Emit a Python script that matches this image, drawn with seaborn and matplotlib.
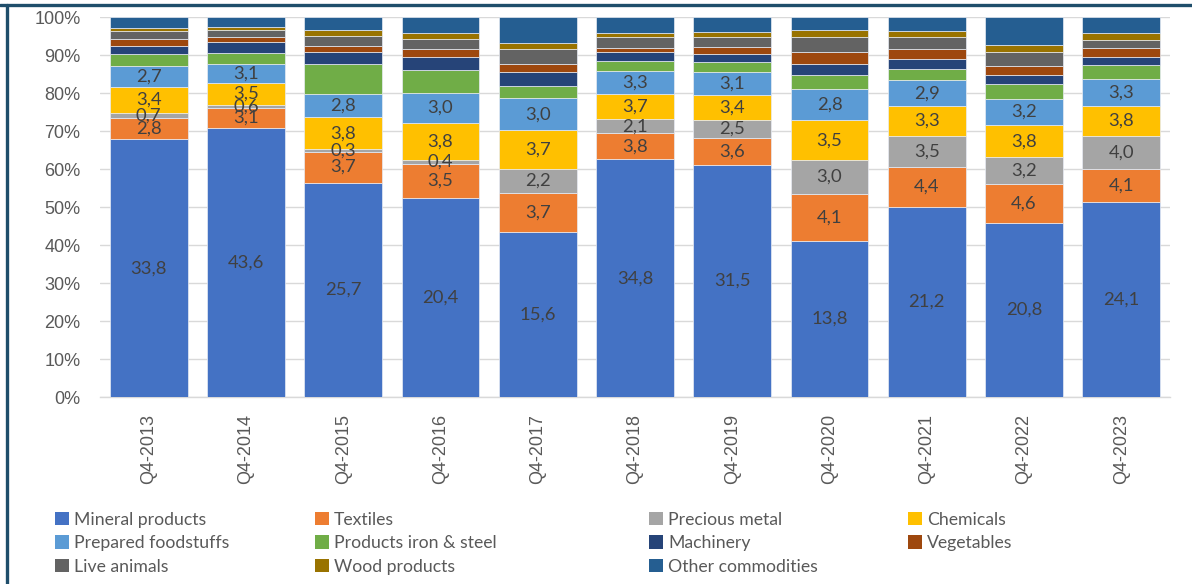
import matplotlib
matplotlib.use("Agg")
import matplotlib.pyplot as plt
from matplotlib.lines import Line2D
from matplotlib.patches import Patch
from matplotlib.ticker import PercentFormatter, MultipleLocator
import numpy as np
import pandas as pd
import seaborn as sns

# Quarterly exports by commodity group (values, billions)
quarters = ["Q4-2013", "Q4-2014", "Q4-2015", "Q4-2016", "Q4-2017", "Q4-2018",
            "Q4-2019", "Q4-2020", "Q4-2021", "Q4-2022", "Q4-2023"]

mineral = [33.8, 43.6, 25.7, 20.4, 15.6, 34.8, 31.5, 13.8, 21.2, 20.8, 24.1]
textiles = [2.8, 3.1, 3.7, 3.5, 3.7, 3.8, 3.6, 4.1, 4.4, 4.6, 4.1]
precious = [0.7, 0.6, 0.3, 0.4, 2.2, 2.1, 2.5, 3.0, 3.5, 3.2, 4.0]
chemicals = [3.4, 3.5, 3.8, 3.8, 3.7, 3.7, 3.4, 3.5, 3.3, 3.8, 3.8]
foodstuffs = [2.7, 3.1, 2.8, 3.0, 3.0, 3.3, 3.1, 2.8, 2.9, 3.2, 3.3]
iron_steel = [1.65, 1.8, 3.6, 2.35, 1.15, 1.45, 1.3, 1.2, 1.2, 1.75, 1.75]
machinery = [1.05, 1.8, 1.45, 1.4, 1.3, 1.3, 1.1, 1.0, 1.2, 1.1, 1.0]
vegetables = [0.8, 0.7, 0.75, 0.85, 0.75, 0.7, 0.95, 1.05, 1.05, 1.05, 1.1]
live_animals = [1.05, 1.15, 1.2, 0.95, 1.45, 1.5, 1.4, 1.35, 1.35, 1.7, 1.0]
wood = [0.5, 0.5, 0.65, 0.6, 0.6, 0.65, 0.6, 0.6, 0.7, 0.8, 0.8]
other = [1.35, 1.6, 1.55, 1.65, 2.4, 2.3, 2.05, 1.1, 1.5, 3.3, 1.95]

series_names = ["Mineral products", "Textiles", "Precious metal", "Chemicals",
                "Prepared foodstuffs", "Products iron & steel", "Machinery",
                "Vegetables", "Live animals", "Wood products", "Other commodities"]
series_values = [mineral, textiles, precious, chemicals, foodstuffs, iron_steel,
                 machinery, vegetables, live_animals, wood, other]
series_colors = ["#4472C4", "#ED7D31", "#A5A5A5", "#FFC000", "#5B9BD5", "#70AD47",
                 "#264478", "#9E480E", "#636363", "#997300", "#255E91"]
labelled = {"Mineral products", "Textiles", "Precious metal", "Chemicals",
            "Prepared foodstuffs"}

sns.set_theme(style="white")
plt.rcParams["font.family"] = ["Liberation Sans", "DejaVu Sans"]

values = np.array(series_values, dtype=float)
totals = values.sum(axis=0)
shares = values / totals

rows = []
for name, vals, shr in zip(series_names, series_values, shares):
    for q, v, s in zip(quarters, vals, shr):
        rows.append({"quarter": q, "series": name, "value": v, "share": s})
df = pd.DataFrame(rows)

fig = plt.figure(figsize=(11.92, 5.84), dpi=100)
ax = fig.add_axes([100 / 1192, 1 - 397 / 584, 1070 / 1192, (397 - 17.3) / 584])

bottom = np.zeros(len(quarters))
for name, color in zip(series_names, series_colors):
    sub = df[df["series"] == name].set_index("quarter").loc[quarters].reset_index()
    sns.barplot(data=sub, x="quarter", y="share", order=quarters, color=color,
                bottom=bottom, width=0.8, saturation=1, ax=ax,
                edgecolor="#E8ECF4", linewidth=0.5, zorder=3)
    if name in labelled:
        for i, (v, s) in enumerate(zip(sub["value"], sub["share"])):
            ax.text(i, bottom[i] + s / 2, f"{v:.1f}".replace(".", ","),
                    ha="center", va="center", fontsize=13.3, color="#404040",
                    family=["Lato", "DejaVu Sans"], zorder=5)
    bottom = bottom + sub["share"].to_numpy()

ax.set_ylim(0, 1)
ax.set_xlim(-0.5, len(quarters) - 0.5)
ax.yaxis.set_major_locator(MultipleLocator(0.1))
ax.yaxis.set_major_formatter(PercentFormatter(1.0, decimals=0))
ax.grid(axis="y", color="#D9D9D9", linewidth=1.0, zorder=0)
ax.set_axisbelow(True)
for side in ["left", "right", "top"]:
    ax.spines[side].set_visible(False)
ax.spines["bottom"].set_color("#D9D9D9")
ax.spines["bottom"].set_linewidth(1.0)
ax.set_xlabel("")
ax.set_ylabel("")
ax.tick_params(axis="y", length=0, pad=14, labelsize=13, labelcolor="#595959")
ax.tick_params(axis="x", length=0, pad=12, labelsize=13, labelcolor="#595959",
               labelrotation=90)

# Legend laid out as four evenly spaced columns, filled row by row
col_x = [46, 306, 640, 899]
for c in range(4):
    idx = [k for k in (c, c + 4, c + 8) if k < len(series_names)]
    handles = [Patch(facecolor=series_colors[k], edgecolor="none") for k in idx]
    labels = [series_names[k] for k in idx]
    fig.legend(handles, labels, loc="upper left",
               bbox_to_anchor=(col_x[c] / 1192, 1 - 503 / 584),
               frameon=False, handlelength=0.8, handleheight=0.8,
               handletextpad=0.3, labelspacing=0.42, borderpad=0,
               prop={"family": ["Lato", "DejaVu Sans"], "size": 12.7},
               labelcolor="#595959")

# Outer frame lines
frame_color = "#1F4E6B"
fig.add_artist(Line2D([0, 1], [1 - 5 / 584, 1 - 5 / 584], transform=fig.transFigure,
                      color=frame_color, linewidth=2.4))
fig.add_artist(Line2D([6.5 / 1192, 6.5 / 1192], [0, 1 - 5 / 584],
                      transform=fig.transFigure, color=frame_color, linewidth=2.4))

fig.savefig("out.png", dpi=100)
